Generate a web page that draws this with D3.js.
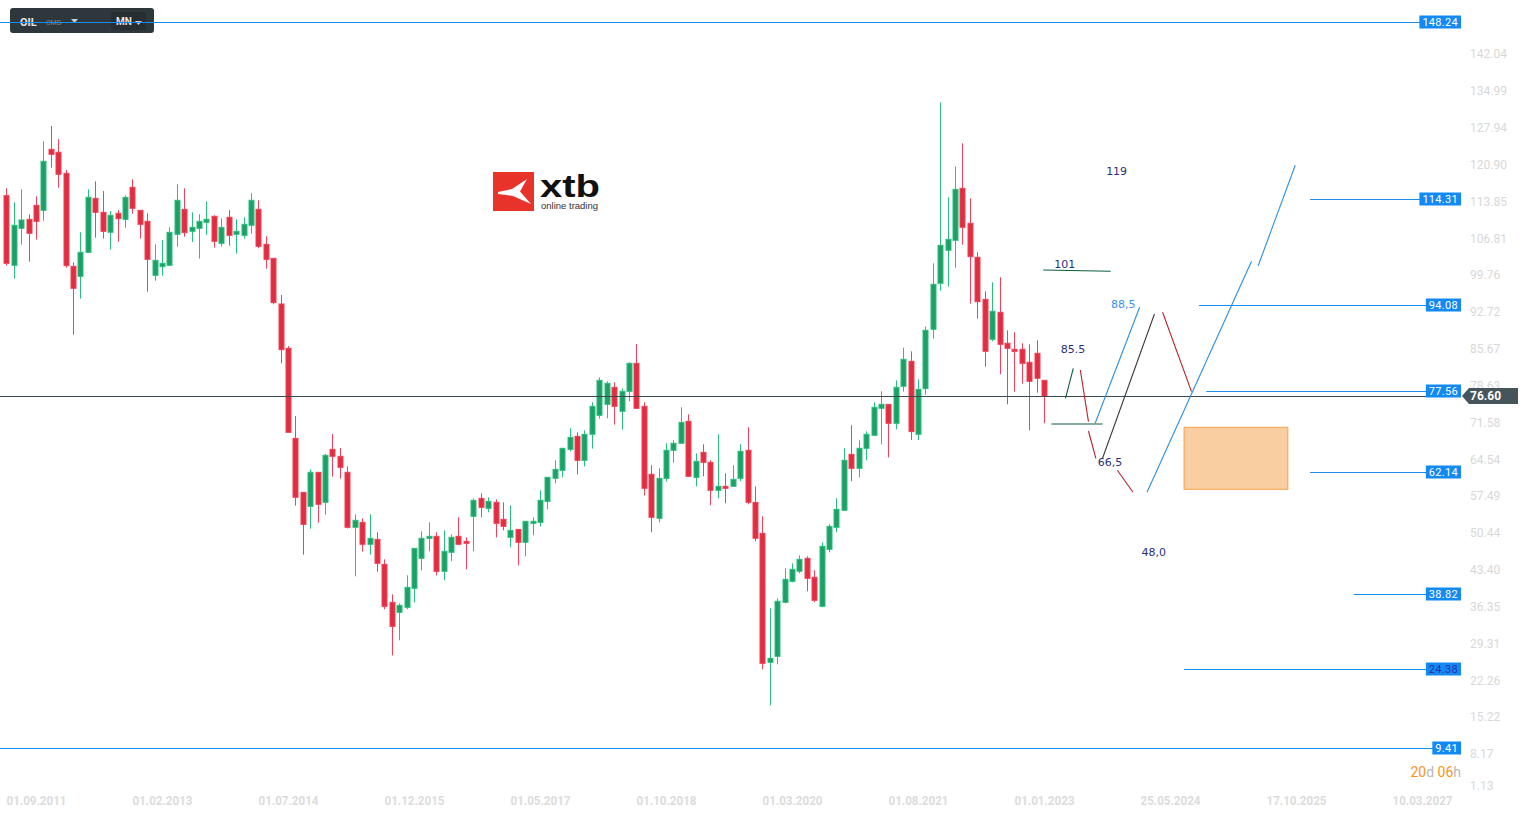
<!DOCTYPE html>
<html><head><meta charset="utf-8">
<script src="https://cdn.jsdelivr.net/npm/d3@7"></script>
<style>
html,body{margin:0;padding:0;background:#fff;overflow:hidden}
svg{display:block}
</style></head>
<body>
<svg id="c" width="1530" height="817"></svg>
<script>
// ---------- DATA ----------
// Monthly candles, first candle = May 2011 (month index -4 relative to 01.09.2011)
const firstMonthIndex = -4;
const opens = [114.95,101.63,108.70,110.42,113.10,112.14,123.81,123.24,119.22,101.43,99.52,104.11,114.44,111.76,107.94,111.57,110.42,116.54,112.14,110.04,99.71,101.37,101.63,107.55,112.34,108.13,108.70,109.85,111.00,105.83,110.81,107.55,107.36,109.28,112.34,105.64,102.96,94.23,85.75,68.54,58.21,55.53,62.04,56.30,66.43,65.10,62.04,51.52,52.47,48.27,49.22,44.44,37.17,35.26,36.22,39.85,45.59,49.41,49.80,43.10,46.74,49.80,48.84,53.62,57.06,55.15,56.30,53.05,49.61,51.13,48.65,52.28,52.47,56.49,60.89,62.42,66.43,68.92,64.33,69.31,72.94,75.04,78.29,73.71,77.53,82.88,74.66,61.66,53.24,60.89,66.25,67.59,71.79,61.08,65.86,63.95,58.60,59.36,59.36,60.89,66.25,56.30,50.37,25.70,26.85,37.18,41.19,43.11,45.59,41.96,36.41,47.31,51.52,54.77,65.48,62.80,66.63,69.12,74.28,75.04,71.41,78.49,83.27,69.31,78.04,89.39,98.19,104.50,106.41,116.35,109.66,103.16,95.12,87.48,92.64,86.71,85.56,85.56,83.08,84.80,79.63];
const highs = [116.35,113.67,116.16,111.38,114.82,125.34,128.27,125.78,119.86,102.20,107.94,116.16,117.69,115.84,112.02,112.21,115.01,118.07,112.14,111.57,105.64,106.47,108.89,117.12,116.35,111.76,111.38,113.87,111.19,110.61,112.21,110.42,110.81,115.40,114.06,107.17,102.96,95.95,86.20,72.81,58.21,62.61,62.04,65.54,69.37,66.69,63.18,54.00,53.24,54.00,50.56,45.40,38.70,36.98,42.34,47.50,50.75,52.47,50.56,50.94,50.18,53.43,49.60,57.06,58.02,57.26,56.87,56.30,55.73,51.13,52.67,53.43,58.60,61.08,64.33,66.63,70.45,69.69,70.07,75.43,80.21,79.44,79.25,78.10,83.08,86.58,75.43,63.38,62.80,67.59,68.16,74.47,73.13,65.67,67.39,64.33,69.31,61.85,63.38,67.39,70.65,59.36,53.62,36.03,37.94,43.68,44.64,46.16,45.98,43.30,48.65,52.10,57.07,66.63,71.03,68.16,69.88,75.43,77.53,75.04,79.63,85.88,85.18,79.82,89.96,102.01,132.80,114.63,120.56,124.96,114.44,104.11,96.66,98.38,99.33,89.20,88.81,86.71,86.52,87.29,79.63];
const lows = [101.56,99.07,105.58,102.33,106.53,110.17,120.30,116.48,101.18,88.37,95.25,104.11,106.92,106.73,104.62,106.15,108.83,111.51,106.73,96.59,98.69,99.65,101.56,105.20,107.11,106.09,102.90,107.43,105.00,105.20,105.39,103.86,106.73,107.68,104.90,100.99,94.17,82.88,69.60,55.66,46.29,51.26,52.41,53.94,61.21,60.83,51.30,42.15,46.86,46.29,43.04,35.84,27.04,29.91,35.84,37.17,43.29,46.93,42.34,41.38,45.02,48.27,43.49,46.93,53.43,54.39,49.60,50.94,47.69,44.25,45.97,49.99,51.71,54.96,59.93,61.08,66.05,61.65,63.18,66.57,72.30,72.37,71.16,70.20,75.62,74.28,57.58,50.56,52.48,60.25,63.89,67.59,61.27,59.36,61.27,55.73,57.07,56.11,59.36,60.32,55.92,48.84,24.37,17.48,25.32,36.99,41.00,42.72,39.28,37.18,36.22,46.74,50.56,54.77,60.32,61.08,64.33,69.12,67.39,64.90,70.26,77.47,68.22,68.22,76.89,87.60,96.78,97.55,101.18,105.58,94.30,91.43,82.25,87.09,80.78,75.04,77.47,79.00,70.07,77.28,71.41];
const closes = [102.01,109.28,110.30,107.75,110.04,121.52,122.85,119.03,101.56,97.23,104.11,114.63,111.76,108.13,111.19,110.55,114.63,112.53,109.47,102.77,102.58,102.01,107.94,114.06,107.87,108.89,110.04,110.42,106.22,108.89,107.36,108.13,109.47,114.06,105.26,102.77,94.49,85.50,69.69,57.25,52.09,62.04,55.92,65.29,65.10,62.99,51.52,52.86,48.27,49.41,44.63,36.41,32.58,36.60,40.04,47.50,49.41,49.80,43.10,46.93,49.61,48.27,48.46,56.68,55.34,56.49,52.28,51.71,50.94,48.65,52.67,52.67,56.68,61.08,62.61,66.63,68.73,64.33,69.30,74.66,79.63,79.06,74.66,77.53,82.88,74.28,58.98,53.43,60.89,66.25,67.59,71.60,61.27,64.14,63.95,58.60,59.36,58.98,60.70,66.06,56.30,49.42,25.51,26.47,37.37,41.58,43.49,45.40,41.77,37.56,47.89,51.71,54.96,64.33,62.80,66.63,69.31,74.47,75.04,71.41,78.29,83.65,69.82,77.91,89.20,98.00,105.45,106.60,116.16,108.90,103.29,94.68,85.18,92.84,86.52,85.75,85.18,82.88,79.44,80.02,76.60];

const lastPrice = 76.60;
const priceTicks = [142.04,134.99,127.94,120.90,113.85,106.81,99.76,92.72,85.67,78.63,71.58,64.54,57.49,50.44,43.40,36.35,29.31,22.26,15.22,8.17,1.13];
const timeTickMonths = [0,17,34,51,68,85,102,119,136,153,170,187];
const timeTickLabels = ["01.09.2011","01.02.2013","01.07.2014","01.12.2015","01.05.2017","01.10.2018","01.03.2020","01.08.2021","01.01.2023","25.05.2024","17.10.2025","10.03.2027"];

// horizontal levels: value, start month index
const levelValues = [148.24,114.31,94.08,77.56,62.14,38.82,24.38,9.41];
const levelStarts = [-5,171.9,156.9,157.9,171.9,177.8,154.9,-5];

// drawn projection segments: [month1, price1, month2, price2, colour]
const segments = [
  [138.9,76.20,139.95,81.93,"green"],
  [140.9,81.61,142.0,71.72,"red"],
  [142.0,69.94,143.0,64.72,"red"],
  [145.9,62.43,148.0,58.22,"red"],
  [137.0,71.28,143.9,71.28,"green"],
  [135.9,100.73,145.0,100.48,"green"],
  [142.9,71.41,148.9,93.60,"blue"],
  [143.9,64.72,150.9,92.32,"dark"],
  [152.0,92.64,155.9,77.46,"red"],
  [149.9,58.22,164.0,102.40,"blue"],
  [164.9,101.55,169.9,120.76,"blue"]
];
// target zone: month range and price range
const zoneMonths = [154.9,168.9];
const zonePrices = [70.65,58.79];
// annotation texts: month, price, text, colour
const notes = [
  [145.8,119.67,"119","navy"],
  [138.8,101.88,"101","navy"],
  [146.7,94.23,"88,5","lightblue"],
  [139.9,85.62,"85.5","navy"],
  [144.9,64.01,"66,5","navy"],
  [150.8,46.80,"48,0","navy"]
];

// ---------- DRAW ----------
const svg = d3.select("#c");
const x = d3.scaleLinear().domain([0,136]).range([36,1044]);
const y = d3.scaleLinear().domain([142.04,8.17]).range([54,754]);
const plotRight = 1461;

const colors = {green:"#0b5e3c", red:"#b5222b", blue:"#2a8fdc", dark:"#3b3b3b", navy:"#2c2f7c", lightblue:"#3d93e6"};
const upFill="#1f9e66", upStroke="#27c07c", dnFill="#dd2f3f", dnStroke="#f4405a";

// y axis labels
const yAxis = d3.axisRight(y).tickValues(priceTicks).tickSize(0).tickPadding(0).tickFormat(d=>d.toFixed(2));
const ya = svg.append("g").attr("transform","translate(1470,0)").call(yAxis);
ya.select(".domain").remove();
ya.selectAll("text").attr("fill","#d8d8d8").style("font","12px Roboto, 'Noto Sans', sans-serif")
  .attr("y", d => Math.min(y(d), 786) - y(d));

// x axis labels
const xAxis = d3.axisBottom(x).tickValues(timeTickMonths).tickSize(0).tickPadding(0).tickFormat((d,i)=>timeTickLabels[i]);
const xa = svg.append("g").attr("transform","translate(0,793)").call(xAxis);
xa.select(".domain").remove();
xa.selectAll("text").attr("fill","#dcdcdc").attr("dy","0.35em").attr("y",7)
  .attr("textLength",60).attr("lengthAdjust","spacingAndGlyphs")
  .style("font-family","Roboto, 'Noto Sans', sans-serif")
  .style("font-weight","bold").style("font-size","13px");

// candles
const candles = opens.map((o,i)=>({m:firstMonthIndex+i,o,h:highs[i],l:lows[i],c:closes[i]}));
const cg = svg.append("g");
const cgs = cg.selectAll("g").data(candles).join("g");
cgs.append("line")
  .attr("x1",d=>Math.round(x(d.m))+0.5).attr("x2",d=>Math.round(x(d.m))+0.5)
  .attr("y1",d=>y(d.h)).attr("y2",d=>y(d.l))
  .attr("stroke",d=>d.c>=d.o?upStroke:dnStroke).attr("stroke-width",1);
cgs.append("rect")
  .attr("x",d=>Math.round(x(d.m))-2).attr("width",5)
  .attr("y",d=>y(Math.max(d.o,d.c)))
  .attr("height",d=>Math.max(1.5,Math.abs(y(d.o)-y(d.c))))
  .attr("fill",d=>d.c>=d.o?upFill:dnFill)
  .attr("stroke",d=>d.c>=d.o?upStroke:dnStroke).attr("stroke-width",1);

// logo
const logo = svg.append("g");
logo.append("rect").attr("x",493).attr("y",172).attr("width",41).attr("height",39).attr("fill","#e8332b");
logo.append("path").attr("fill","#fff")
  .attr("d","M498,192 L512,189 L527,179 L520,191.5 L531,204 L513,196 L498,194 Z");
logo.append("text").attr("x",540).attr("y",197).text("xtb")
  .style("font","bold 32px 'Liberation Sans', Arial, sans-serif").attr("fill","#111")
  .attr("textLength",60).attr("lengthAdjust","spacingAndGlyphs");
logo.append("text").attr("x",541).attr("y",209).text("online trading")
  .style("font","9.5px 'Liberation Sans', Arial, sans-serif").attr("fill","#333");

// last price line
svg.append("line").attr("x1",0).attr("x2",plotRight).attr("y1",Math.round(y(lastPrice))+0.5).attr("y2",Math.round(y(lastPrice))+0.5)
  .attr("stroke","#3c4950").attr("stroke-width",1);

// zone
svg.append("rect").attr("x",x(zoneMonths[0])).attr("width",x(zoneMonths[1])-x(zoneMonths[0]))
  .attr("y",y(zonePrices[0])).attr("height",y(zonePrices[1])-y(zonePrices[0]))
  .attr("fill","#f9cfa1").attr("stroke","#f5a24a").attr("stroke-width",1);

// segments
svg.append("g").selectAll("line").data(segments).join("line")
  .attr("x1",d=>x(d[0])).attr("y1",d=>y(d[1])).attr("x2",d=>x(d[2])).attr("y2",d=>y(d[3]))
  .attr("stroke",d=>colors[d[4]]).attr("stroke-width",1.1);

// notes
svg.append("g").selectAll("text").data(notes).join("text")
  .attr("x",d=>x(d[0])).attr("y",d=>y(d[1])).attr("text-anchor","middle").attr("dy","0.35em")
  .attr("fill",d=>colors[d[3]]).style("font","11px 'DejaVu Sans', sans-serif").text(d=>d[2]);

// levels
const lg = svg.append("g");
levelValues.forEach((v,i)=>{
  const yy = Math.round(y(v))+0.5;
  lg.append("line").attr("x1",x(levelStarts[i])).attr("x2",plotRight).attr("y1",yy).attr("y2",yy)
    .attr("stroke","#1a8cf0").attr("stroke-width",1);
});
const labelGroups = [];
levelValues.forEach((v,i)=>{
  const yy = Math.round(y(v));
  const g = lg.append("g");
  const t = g.append("text").attr("x",plotRight-3).attr("y",yy).attr("dy","0.36em").attr("text-anchor","end")
    .attr("fill", v===24.38 ? "#2a2fa8" : "#fff").attr("letter-spacing","0.3")
    .style("font","11px Roboto, sans-serif").text(v.toFixed(2));
  const w = t.node().getComputedTextLength();
  g.insert("rect","text").attr("x",plotRight-w-6).attr("y",yy-6.5).attr("width",w+6).attr("height",13).attr("fill","#1389f4");
  labelGroups.push(g);
});

// last price badge
const py = Math.round(y(lastPrice));
svg.append("path").attr("d",`M${plotRight+1},${py} L${plotRight+8},${py-8} L1518,${py-8} L1518,${py+8} L${plotRight+8},${py+8} Z`).attr("fill","#46545c");
svg.append("text").attr("x",1470).attr("y",py).attr("dy","0.36em").attr("fill","#fff")
  .style("font","bold 12px Roboto, sans-serif").text(lastPrice.toFixed(2));

// countdown
const cd = svg.append("text").attr("x",plotRight).attr("y",772).attr("dy","0.35em").attr("text-anchor","end")
  .style("font","14px Roboto, sans-serif");
[["20","#f7941d"],["d","#b8b8b8"],[" 06","#f7941d"],["h","#b8b8b8"]].forEach(p=>cd.append("tspan").attr("fill",p[1]).text(p[0]));

// toolbar
const tb = svg.append("g");
tb.append("rect").attr("x",10).attr("y",8).attr("width",144).attr("height",25).attr("rx",3).attr("fill","#2e373b");
tb.append("rect").attr("x",111).attr("y",12).attr("width",35).attr("height",18).attr("rx",2).attr("fill","#262e32");
tb.append("text").attr("x",20).attr("y",26).text("OIL").attr("fill","#e6e6e6").style("font","bold 11px Roboto, sans-serif");
tb.append("text").attr("x",46).attr("y",25).text("CMD").attr("fill","#7d878c").style("font","7px Roboto, sans-serif");
tb.append("path").attr("d","M71,19 L78,19 L74.5,23 Z").attr("fill","#c9cfd2");
tb.append("text").attr("x",116).attr("y",25).text("MN").attr("fill","#e6e6e6").style("font","bold 10px Roboto, sans-serif");
tb.append("path").attr("d","M135,21 L142,21 L138.5,25 Z").attr("fill","#c9cfd2");
// top level line drawn over the toolbar
svg.append("line").attr("x1",0).attr("x2",plotRight).attr("y1",Math.round(y(levelValues[0]))+0.5).attr("y2",Math.round(y(levelValues[0]))+0.5)
  .attr("stroke","#1a8cf0").attr("stroke-width",1);
svg.node().appendChild(labelGroups[0].node());
</script>
</body></html>
